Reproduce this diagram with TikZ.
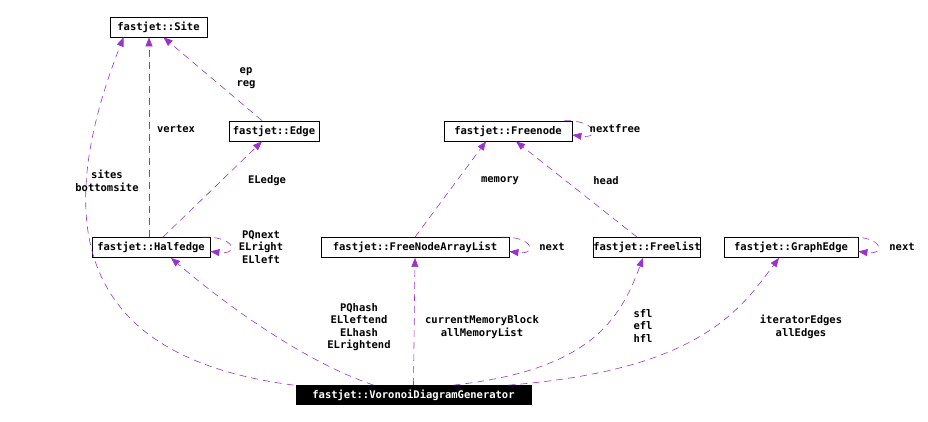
\documentclass[tikz,border=0pt]{standalone}
\usepackage{fontspec}
\setmonofont{DejaVu Sans Mono}
\usetikzlibrary{arrows.meta,calc}
\definecolor{edgec}{HTML}{9A32CD}
\begin{document}
\begin{tikzpicture}[x=1pt,y=-1pt,
  box/.style={draw=black,fill=white,inner sep=0pt,minimum height=20pt,font=\ttfamily\bfseries\fontsize{10.5}{12}\selectfont,line width=0.8pt},
  lbl/.style={font=\ttfamily\bfseries\fontsize{10.5}{12.5}\selectfont,align=center,inner sep=0pt},
  rel/.style={draw=edgec,dashed,dash pattern=on 7pt off 5pt,line width=0.6pt,-{Triangle[length=9pt,width=7pt]}}]
\useasboundingbox (0,0) rectangle (928,422);
\node[box,minimum width=97pt] (site) at (158.5,27) {fastjet::Site};
\node[box,minimum width=90pt] (edge) at (274,131) {fastjet::Edge};
\node[box,minimum width=128pt] (fnode) at (508,131) {fastjet::Freenode};
\node[box,minimum width=118pt] (half) at (151,247.5) {fastjet::Halfedge};
\node[box,minimum width=188pt] (fnal) at (415,247.5) {fastjet::FreeNodeArrayList};
\node[box,minimum width=102pt] (flist) at (647,247.5) {fastjet::Freelist};
\node[box,minimum width=134pt] (gedge) at (791,247.5) {fastjet::GraphEdge};
\node[box,fill=black,text=white,minimum width=235pt,minimum height=19pt] (vdg) at (413.5,395) {fastjet::VoronoiDiagramGenerator};

\draw[rel] (half.north -| 149,0) -- (site.south -| 149,0);
\draw[rel] ($(edge.north)+(-12,0)$) -- ($(site.south)+(5,0)$) ;
\draw[rel] ($(half.north)+(12,0)$) -- ($(edge.south)+(-12,0)$);
\draw[rel] (fnal.north) -- ($(fnode.south)+(-22,0)$);
\draw[rel] ($(flist.north)+(-10,0)$) -- ($(fnode.south)+(8,0)$);
\draw[rel] (vdg.north) -- (fnal.south);
\draw[rel] ($(vdg.north)+(-40,0)$) .. controls (300,360) and (220,300) .. ($(half.south)+(20,0)$);
\draw[rel] ($(vdg.north)+(-120,0)$) .. controls (100,360) and (40,250) .. ($(site.south)+(-35,0)$);
\draw[rel] ($(vdg.north)+(40,0)$) .. controls (590,370) and (620,320) .. ($(flist.south)+(-4,0)$);
\draw[rel] ($(vdg.north)+(95,0)$) .. controls (700,370) and (740,310) .. ($(gedge.south)+(-12,0)$);
% self loops
\draw[rel] ($(half.north east)+(-8,0)$) .. controls (235,236) and (240,255) .. ($(half.east)+(0,4)$);
\draw[rel] ($(fnal.north east)+(-8,0)$) .. controls (533,236) and (538,255) .. ($(fnal.east)+(0,4)$);
\draw[rel] ($(fnode.north east)+(-8,0)$) .. controls (596,120) and (601,139) .. ($(fnode.east)+(0,4)$);
\draw[rel] ($(gedge.north east)+(-8,0)$) .. controls (882,236) and (887,255) .. ($(gedge.east)+(0,4)$);

\node[lbl] (l1) at (246,78) {ep\\reg};
\node[lbl] (l2) at (176,129) {vertex};
\node[lbl] (l3) at (107,181) {sites\\bottomsite};
\node[lbl] (l4) at (267,181) {ELedge};
\node[lbl] (l5) at (261,247) {PQnext\\ELright\\ELleft};
\node[lbl] (l6) at (500,181) {memory};
\node[lbl] (l7) at (606,181) {head};
\node[lbl] (l8) at (615,129) {nextfree};
\node[lbl] (l9) at (552,247) {next};
\node[lbl] (l10) at (902,247) {next};
\node[lbl] (l11) at (359,327) {PQhash\\ELleftend\\ELhash\\ELrightend};
\node[lbl] (l12) at (482,327) {currentMemoryBlock\\allMemoryList};
\node[lbl] (l13) at (643,326) {sfl\\efl\\hfl};
\node[lbl] (l14) at (801,327) {iteratorEdges\\allEdges};
\end{tikzpicture}
\end{document}
